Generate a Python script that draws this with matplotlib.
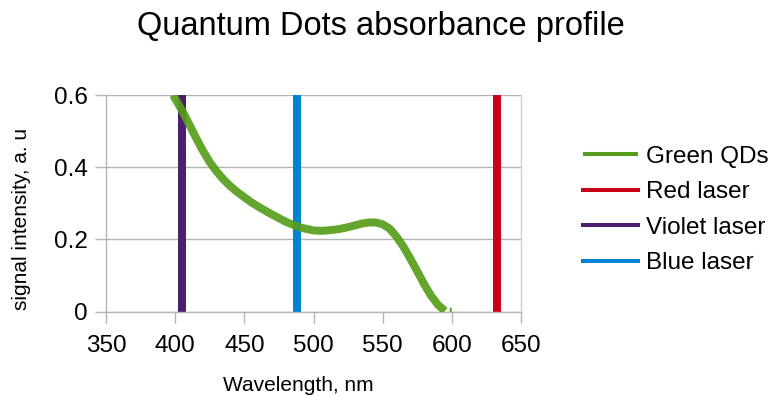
import matplotlib
matplotlib.use("Agg")
import matplotlib.pyplot as plt
import numpy as np

plt.rcParams['font.family'] = ['Liberation Sans', 'DejaVu Sans']

# Green QDs absorbance
qd_wavelength = [398.5, 400, 403, 406, 410, 415, 420, 425, 430, 435, 440, 445, 450, 455,
                 460, 465, 470, 475, 480, 485, 490, 495, 500, 505, 510, 515, 520, 525,
                 530, 535, 540, 545, 550, 555, 560, 565, 570, 575, 580, 585, 590, 595,
                 np.nan, 598.5, 600]
qd_signal = [0.600, 0.590, 0.570, 0.550, 0.520, 0.482, 0.446, 0.414, 0.388, 0.366, 0.347,
             0.331, 0.317, 0.303, 0.291, 0.280, 0.269, 0.259, 0.249, 0.241, 0.234, 0.229,
             0.225, 0.224, 0.225, 0.227, 0.230, 0.234, 0.239, 0.244, 0.247, 0.247, 0.242,
             0.230, 0.208, 0.180, 0.147, 0.112, 0.076, 0.044, 0.019, 0.002,
             np.nan, 0.0, 0.0]

laser_names = ['Red laser', 'Violet laser', 'Blue laser']
laser_wavelengths = [633, 405, 488]
laser_colors = ['#c9001a', '#4b1f6f', '#0084d1']
qd_color = '#579d1c'

x_ticks = [350, 400, 450, 500, 550, 600, 650]
y_ticks = [0, 0.2, 0.4, 0.6]
y_tick_labels = ['0', '0.2', '0.4', '0.6']

fig = plt.figure(figsize=(7.75, 3.96), dpi=100)
ax = fig.add_axes([106/775, 1-311.7/396, (521-106)/775, (311.7-95)/396])

grid_c = '#b3b3b3'
lw_px = 8 * 72 / 100

ax.plot(qd_wavelength, qd_signal, color=qd_color, lw=lw_px, alpha=0.92,
        solid_capstyle='butt', solid_joinstyle='round', label='Green QDs', zorder=3)
for name, wl, c in zip(laser_names, laser_wavelengths, laser_colors):
    ax.axvline(wl, color=c, lw=lw_px, label=name, zorder=2)

ax.set_xlim(350, 650)
ax.set_ylim(0, 0.6)
ax.set_xticks(x_ticks)
ax.set_yticks(y_ticks)
ax.set_yticklabels(y_tick_labels)
ax.yaxis.grid(True, color=grid_c, lw=1.0)
ax.set_axisbelow(True)
ax.spines['top'].set_visible(False)
for s in ['left', 'bottom', 'right']:
    ax.spines[s].set_color(grid_c)
    ax.spines[s].set_linewidth(1.0)
ax.spines['right'].set_color('#d0d0d0')
ax.tick_params(axis='both', colors=grid_c, labelcolor='black', labelsize=17.5,
               length=8, width=1.0, direction='out')
ax.tick_params(axis='x', pad=9)
ax.tick_params(axis='y', pad=5)

fig.text(380.5/775, 1-35/396, 'Quantum Dots absorbance profile', ha='center',
         va='baseline', fontsize=23.5)
fig.text(298/775, 1/396, 'Wavelength, nm', ha='center', va='bottom', fontsize=15)
fig.text(22/775, 1-219/396, 'signal intensity, a. u', ha='center', va='center',
         rotation=90, fontsize=15)

handles, labels = ax.get_legend_handles_labels()
leg = fig.legend(handles, labels, loc='center left', bbox_to_anchor=(583/775, 1-210/396),
                 frameon=False, fontsize=17.5, handlelength=2.25, handletextpad=0.36,
                 labelspacing=0.55, borderpad=0, borderaxespad=0)
for h in leg.get_lines():
    h.set_linewidth(2.9)
    h.set_alpha(1)

fig.savefig('out.png', dpi=100)
